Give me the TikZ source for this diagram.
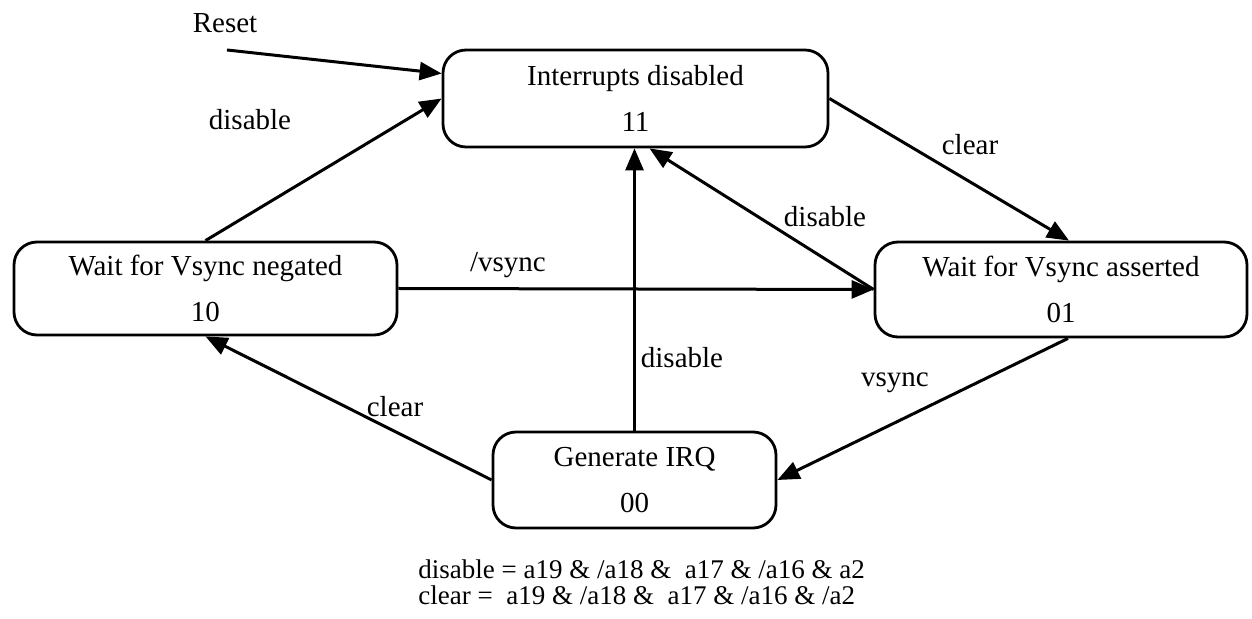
\documentclass[tikz,border=0pt]{standalone}
\usepackage{fontspec}
\setmainfont{Liberation Serif}
\usetikzlibrary{arrows.meta}
\begin{document}
\begin{tikzpicture}[x=0.5pt,y=-0.5pt,
  font=\fontsize{14.5}{23}\selectfont,
  statebox/.style={draw,line width=1.4pt,rounded corners=11.5pt,align=center,inner sep=0pt},
  trans/.style={line width=1.5pt,-{Triangle[length=11pt,width=9pt]}},
  defline/.style={anchor=west,inner sep=0pt,font=\fontsize{13.5}{16}\selectfont}]
        \useasboundingbox (0,0) rectangle (1252,619);
        \node[statebox,minimum width=192.5pt,minimum height=48.5pt] (int) at (635.5,98.5) {Interrupts disabled\\11};
        \node[statebox,minimum width=191.5pt,minimum height=46.5pt] (neg) at (205.5,288.5) {Wait for Vsync negated\\10};
        \node[statebox,minimum width=186pt,minimum height=47.5pt] (as) at (1061,289.5) {Wait for Vsync asserted\\01};
        \node[statebox,minimum width=141.5pt,minimum height=48pt] (irq) at (634.5,480) {Generate IRQ\\00};
        \coordinate (rst) at (227,50);
        \draw[trans] (rst) -- ([yshift=12.5pt]int.west);
        \draw[trans] (neg.north) -- (int.west);
        \draw[trans] (int.east) -- ([xshift=4pt]as.north);
        \draw[trans] (as.west) -- ([xshift=7pt]int.south);
        \draw[trans] (neg.east) -- (as.west);
        \draw[trans] (irq.north) -- (irq.north |- int.south);
        \draw[trans] (irq.west) -- (neg.south);
        \draw[trans] ([xshift=3.5pt]as.south) -- (irq.east);
        \node (lreset) at (225,23) {Reset};
        \node (ldis1) at (250,120) {disable};
        \node (lclr1) at (970,145) {clear};
        \node (ldis2) at (825,217) {disable};
        \node (lnvs) at (508,265) {/vsync};
        \node (ldis3) at (682,358) {disable};
        \node (lclr2) at (395,407) {clear};
        \node (lvs) at (895,383) {vsync};
        \node[defline] (defdis) at (418,569) {disable = a19 \& /a18 \&\ \ a17 \& /a16 \& a2};
        \node[defline] (defclr) at (418,595) {clear =\ \ a19 \& /a18 \&\ \ a17 \& /a16 \& /a2};
\end{tikzpicture}
\end{document}
